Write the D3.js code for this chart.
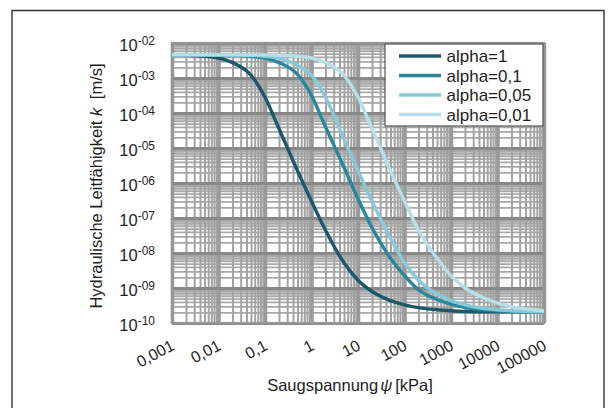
<!DOCTYPE html>
<html>
<head>
<meta charset="utf-8">
<script src="https://cdn.jsdelivr.net/npm/d3@7"></script>
<style>
  html, body { margin: 0; padding: 0; background: #fff; }
  svg { display: block; }
  text { font-family: "Liberation Sans", Arial, Helvetica, sans-serif; fill: #1e1e1e; }
</style>
</head>
<body>
<svg id="chart" width="615" height="408"></svg>
<script>
// Suction (kPa) at which the conductivity values are listed
const psi = [0.001, 0.002, 0.005, 0.01, 0.02, 0.05, 0.1, 0.2, 0.5, 1, 2, 5, 10, 20, 50,
             100, 200, 500, 1000, 2000, 5000, 10000, 20000, 50000, 100000];

// Hydraulic conductivity k [m/s] for each alpha
const kAlpha1 = [4.57e-3, 4.47e-3, 4.17e-3, 3.72e-3, 2.75e-3, 1.20e-3, 2.82e-4, 3.55e-5, 2.24e-6,
                 3.02e-7, 4.47e-8, 5.25e-9, 1.66e-9, 7.94e-10, 4.37e-10, 3.31e-10, 2.75e-10,
                 2.40e-10, 2.24e-10, 2.14e-10, 2.09e-10, 2.09e-10, 2.09e-10, 2.09e-10, 2.09e-10];
const kAlpha01 = [4.57e-3, 4.57e-3, 4.57e-3, 4.47e-3, 4.47e-3, 4.17e-3, 3.72e-3, 2.75e-3, 1.26e-3,
                  3.16e-4, 3.98e-5, 2.82e-6, 3.55e-7, 5.25e-8, 7.08e-9, 2.24e-9, 8.91e-10,
                  4.68e-10, 3.47e-10, 2.82e-10, 2.40e-10, 2.24e-10, 2.14e-10, 2.09e-10, 2.09e-10];
const kAlpha005 = [4.57e-3, 4.57e-3, 4.57e-3, 4.57e-3, 4.57e-3, 4.47e-3, 4.17e-3, 3.72e-3, 2.29e-3,
                   1.20e-3, 2.82e-4, 1.78e-5, 2.24e-6, 3.02e-7, 2.63e-8, 5.25e-9, 1.66e-9,
                   6.76e-10, 4.37e-10, 3.31e-10, 2.63e-10, 2.40e-10, 2.24e-10, 2.14e-10, 2.09e-10];
const kAlpha001 = [4.57e-3, 4.57e-3, 4.57e-3, 4.57e-3, 4.57e-3, 4.57e-3, 4.57e-3, 4.47e-3, 4.17e-3,
                   3.72e-3, 2.75e-3, 1.20e-3, 2.82e-4, 3.55e-5, 2.24e-6, 3.02e-7, 4.47e-8,
                   7.08e-9, 2.24e-9, 1.00e-9, 5.25e-10, 3.72e-10, 2.95e-10, 2.45e-10, 2.24e-10];

const seriesNames = ["alpha=1", "alpha=0,1", "alpha=0,05", "alpha=0,01"];
const seriesColors = ["#1d5868", "#28879b", "#88c9d9", "#b6dfe9"];
const seriesValues = [kAlpha1, kAlpha01, kAlpha005, kAlpha001];

// Axis ticks and labels
const xTicks = [0.001, 0.01, 0.1, 1, 10, 100, 1000, 10000, 100000];
const xTickLabels = ["0,001", "0,01", "0,1", "1", "10", "100", "1000", "10000", "100000"];
const yTicks = [1e-2, 1e-3, 1e-4, 1e-5, 1e-6, 1e-7, 1e-8, 1e-9, 1e-10];
const yTickExponents = ["-02", "-03", "-04", "-05", "-06", "-07", "-08", "-09", "-10"];

const svg = d3.select("#chart");
const plot = { left: 172, right: 544, top: 43, bottom: 323 };
const W = plot.right - plot.left, H = plot.bottom - plot.top;

// Outer frame
svg.append("path")
  .attr("d", "M12,408 V10.5 H604 V408")
  .attr("fill", "none").attr("stroke", "#333").attr("stroke-width", 1.4);

const x = d3.scaleLog().domain([1e-3, 1e5]).range([plot.left, plot.right]);
const y = d3.scaleLog().domain([1e-10, 1e-2]).range([plot.bottom, plot.top]);

// Minor values for the log grid (2..9 in every decade)
const xMinor = [], yMinor = [];
for (let e = -3; e < 5; e++) for (let m = 2; m <= 9; m++) xMinor.push(m * Math.pow(10, e));
for (let e = -10; e < -2; e++) for (let m = 2; m <= 9; m++) yMinor.push(m * Math.pow(10, e));

const g = svg.append("g");
g.append("rect").attr("x", plot.left).attr("y", plot.top).attr("width", W).attr("height", H)
  .attr("fill", "#fff");

function gridX(vals, color, width) {
  const a = g.append("g").attr("transform", `translate(0,${plot.bottom})`)
    .call(d3.axisBottom(x).tickValues(vals).tickSize(-H).tickFormat(""));
  a.select(".domain").remove();
  a.selectAll("line").attr("stroke", color).attr("stroke-width", width);
}
function gridY(vals, color, width) {
  const a = g.append("g").attr("transform", `translate(${plot.left},0)`)
    .call(d3.axisLeft(y).tickValues(vals).tickSize(-W).tickFormat(""));
  a.select(".domain").remove();
  a.selectAll("line").attr("stroke", color).attr("stroke-width", width);
}
gridY(yMinor, "#a9a9a9", 1.8);
gridX(xMinor, "#a3a3a3", 2);
gridX(xTicks, "#9a9a9a", 3.5);
gridY(yTicks, "#888888", 3);

// Plot border
g.append("rect").attr("x", plot.left).attr("y", plot.top).attr("width", W).attr("height", H)
  .attr("fill", "none").attr("stroke", "#969696").attr("stroke-width", 2.2);

// Curves
const line = d3.line().x(d => x(d[0])).y(d => y(d[1])).curve(d3.curveMonotoneX);
svg.append("clipPath").attr("id", "plotclip").append("rect")
  .attr("x", plot.left).attr("y", plot.top).attr("width", W).attr("height", H);
const curves = svg.append("g").attr("clip-path", "url(#plotclip)");
seriesValues.forEach((vals, i) => {
  curves.append("path")
    .datum(psi.map((p, j) => [p, vals[j]]))
    .attr("d", line)
    .attr("fill", "none")
    .attr("stroke", seriesColors[i])
    .attr("stroke-width", 3.4)
    .attr("stroke-linejoin", "round");
});

// Y axis labels: 10 with superscript exponent
const yAxis = svg.append("g").attr("transform", `translate(${plot.left},0)`)
  .call(d3.axisLeft(y).tickValues(yTicks).tickSize(0).tickPadding(17).tickFormat(""));
yAxis.select(".domain").remove();
yAxis.selectAll(".tick text").each(function (d, i) {
  const t = d3.select(this).attr("dy", null).attr("y", 7).attr("fill", "#1e1e1e");
  t.append("tspan").attr("font-size", 16.5).text("10");
  t.append("tspan").attr("font-size", 12).attr("dy", -6).text(yTickExponents[i]);
});

// X axis labels, rotated
const xAxis = svg.append("g").attr("transform", `translate(0,${plot.bottom})`)
  .call(d3.axisBottom(x).tickValues(xTicks).tickSize(0).tickFormat((d, i) => xTickLabels[i]));
xAxis.select(".domain").remove();
xAxis.selectAll(".tick text")
  .attr("y", null).attr("dy", null)
  .attr("font-size", 16)
  .attr("fill", "#1e1e1e")
  .attr("text-anchor", "end")
  .attr("transform", "translate(3,26) rotate(-28)");

// Axis titles
const yTitle = svg.append("text")
  .attr("transform", "translate(102,186) rotate(-90)")
  .attr("text-anchor", "middle").attr("font-size", 16.5);
yTitle.append("tspan").text("Hydraulische Leitfähigkeit ");
yTitle.append("tspan").attr("font-style", "italic").text("k");
yTitle.append("tspan").attr("dx", 4).text(" [m/s]");

const xTitle = svg.append("text")
  .attr("x", 350).attr("y", 391)
  .attr("text-anchor", "middle").attr("font-size", 16.5);
xTitle.append("tspan").text("Saugspannung");
xTitle.append("tspan").attr("dx", 2).attr("font-style", "italic").text("ψ");
xTitle.append("tspan").attr("dx", 3).text("[kPa]");

// Legend
const lg = svg.append("g").attr("transform", "translate(385,44)");
lg.append("rect").attr("width", 158).attr("height", 82)
  .attr("fill", "#fff").attr("stroke", "#555").attr("stroke-width", 1.2);
seriesNames.forEach((name, i) => {
  const yy = 12 + i * 19.5;
  lg.append("line").attr("x1", 14).attr("x2", 56).attr("y1", yy).attr("y2", yy)
    .attr("stroke", seriesColors[i]).attr("stroke-width", 3.4);
  lg.append("text").attr("x", 61.5).attr("y", yy + 6).attr("font-size", 17).text(name);
});
</script>
</body>
</html>
